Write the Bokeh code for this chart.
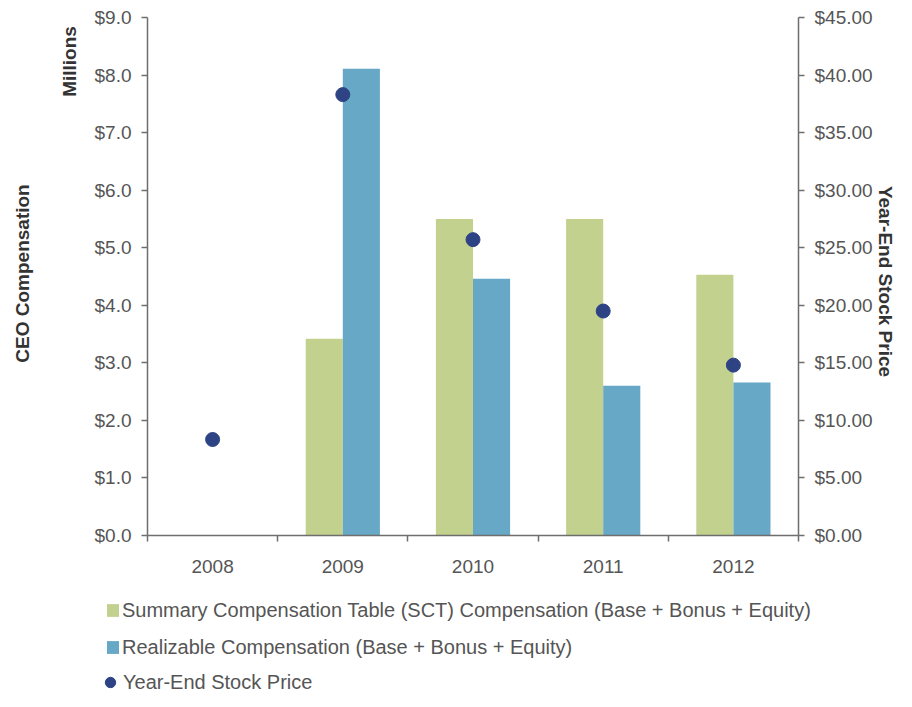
import numpy as np
from bokeh.plotting import figure
from bokeh.models import (ColumnDataSource, Range1d, LinearAxis, FixedTicker,
                          NumeralTickFormatter, Legend, LegendItem, Label)
from bokeh.transform import dodge
from bokeh.embed import file_html
from bokeh.resources import INLINE

years = ["2008", "2009", "2010", "2011", "2012"]
sct_comp = [0.0, 3.42, 5.50, 5.50, 4.53]          # $ millions
realizable_comp = [0.0, 8.11, 4.46, 2.60, 2.66]   # $ millions
stock_price = [8.34, 38.3, 25.7, 19.5, 14.8]      # $ per share
left_ticks = [0, 1, 2, 3, 4, 5, 6, 7, 8, 9]
right_ticks = [0, 5, 10, 15, 20, 25, 30, 35, 40, 45]
legend_labels = ["Summary Compensation Table (SCT) Compensation (Base + Bonus + Equity)",
                 "Realizable Compensation (Base + Bonus + Equity)",
                 "Year-End Stock Price"]

GREEN = "#C3D18F"
BLUE = "#66A8C5"
NAVY = "#2E4383"
AXIS = "#6e6e6e"
TXT = "#555555"
TITLE_C = "#333333"
FONT = "Liberation Sans"

# canvas and the pixel box of the chart area inside it
W, H = 896, 691
FL, FR, FT, FB = 147, 798, 17, 535
n = len(years)
y_max = left_ticks[-1]
p_max = right_ticks[-1]
xs = (FR - FL) / n
ys = (FB - FT) / y_max
x_rng = Range1d(-0.5 - FL / xs, n - 0.5 + (W - FR) / xs)
y_rng = Range1d(-(H - FB) / ys, y_max + FT / ys)
k = p_max / y_max
p_rng = Range1d(y_rng.start * k, y_rng.end * k)

src = ColumnDataSource(dict(x=list(range(n)), year=years,
                            sct=sct_comp, real=realizable_comp, price=stock_price))

p = figure(width=W, height=H, output_backend="svg", toolbar_location=None,
           x_range=x_rng, y_range=y_rng,
           min_border_left=0, min_border_right=0, min_border_top=0,
           min_border_bottom=0, y_axis_location=None, x_axis_location=None)
p.title.visible = False
p.outline_line_color = None
p.xgrid.visible = False
p.ygrid.visible = False
p.extra_y_ranges = {"price": p_rng}

bw = 0.285
r_sct = p.vbar(x=dodge("x", -bw / 2, range=p.x_range), top="sct", width=bw,
               source=src, fill_color=GREEN, line_color=None)
r_real = p.vbar(x=dodge("x", bw / 2, range=p.x_range), top="real", width=bw,
                source=src, fill_color=BLUE, line_color=None)
r_dot = p.scatter(x="x", y="price", y_range_name="price", source=src, size=14,
                  fill_color=NAVY, line_color=NAVY, marker="circle")

def style_axis(ax):
    ax.axis_line_color = AXIS
    ax.axis_line_width = 1.5
    ax.major_tick_line_color = AXIS
    ax.major_tick_line_width = 1.5
    ax.minor_tick_line_color = None
    ax.major_tick_in = 0
    ax.major_tick_out = 6
    ax.major_label_text_font = FONT
    ax.major_label_text_font_size = "19px"
    ax.major_label_text_color = TXT

# bottom axis: labels at category centres, ticks at category boundaries
xax = LinearAxis(fixed_location=0, bounds=(-0.5, n - 0.5))
style_axis(xax)
xax.ticker = FixedTicker(ticks=list(range(n)),
                         minor_ticks=[i - 0.5 for i in range(n + 1)])
xax.major_label_overrides = {i: y for i, y in enumerate(years)}
xax.major_tick_line_color = None
xax.major_tick_out = 0
xax.minor_tick_line_color = AXIS
xax.minor_tick_line_width = 1.5
xax.minor_tick_in = 0
xax.minor_tick_out = 6
xax.major_label_standoff = 18
p.add_layout(xax, "below")

yax = LinearAxis(fixed_location=-0.5, bounds=(0, y_max))
style_axis(yax)
yax.ticker = FixedTicker(ticks=left_ticks)
yax.formatter = NumeralTickFormatter(format="$0.0")
yax.major_label_standoff = 10
p.add_layout(yax, "left")

ray = LinearAxis(y_range_name="price", fixed_location=n - 0.5, bounds=(0, p_max))
style_axis(ray)
ray.ticker = FixedTicker(ticks=right_ticks)
ray.formatter = NumeralTickFormatter(format="$0.00")
ray.major_label_standoff = 10
p.add_layout(ray, "right")

def title_label(text, x, y, angle):
    return Label(text=text, x=x, y=H - y, x_units="screen", y_units="screen",
                 angle=angle, text_align="center", text_baseline="middle",
                 text_font=FONT, text_font_size="19px", text_font_style="bold",
                 text_color=TITLE_C)

p.add_layout(title_label("CEO Compensation", 22, 273, np.pi / 2))
p.add_layout(title_label("Millions", 69, 61, np.pi / 2))
p.add_layout(title_label("Year-End Stock Price", 885, 281, -np.pi / 2))

def make_legend(label, renderer, gw, gh, standoff, loc):
    lg = Legend(items=[LegendItem(label=label, renderers=[renderer])],
                location=loc, orientation="vertical",
                glyph_width=gw, glyph_height=gh, label_height=24,
                label_standoff=standoff, padding=0, margin=0, spacing=0,
                background_fill_alpha=0, border_line_alpha=0,
                inactive_fill_alpha=0,
                label_text_font=FONT, label_text_font_size="20px",
                label_text_color=TXT)
    p.add_layout(lg, "center")

make_legend(legend_labels[0], r_sct, 15, 16, 2, (105, H - 610 - 12))
make_legend(legend_labels[1], r_real, 15, 16, 2, (105, H - 647 - 12))
make_legend(legend_labels[2], r_dot, 26, 30, 0, (97, H - 682 - 15))

open("out.html", "w").write(file_html(p, INLINE))
